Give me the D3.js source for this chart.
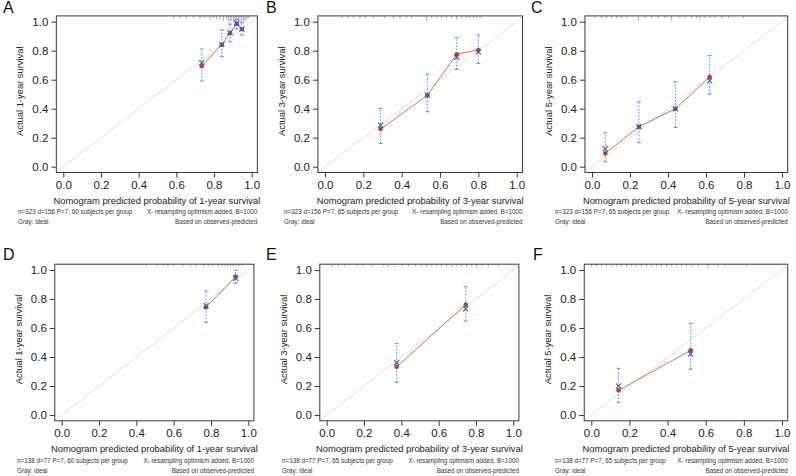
<!DOCTYPE html>
<html>
<head>
<meta charset="utf-8">
<script src="https://cdn.jsdelivr.net/npm/d3@7"></script>
<style>
  body { margin: 0; background: #fff; }
  svg { font-family: "Liberation Sans", Arial, sans-serif; display: block; }
</style>
</head>
<body>
<div id="chart"></div>
<script>
// ---- data ----
const panelLabels = ["A", "B", "C", "D", "E", "F"];
const horizons = ["1-year", "3-year", "5-year", "1-year", "3-year", "5-year"];
const footLeft = [
  "n=323 d=156 P=7, 60 subjects per group",
  "n=323 d=156 P=7, 65 subjects per group",
  "n=323 d=156 P=7, 65 subjects per group",
  "n=138 d=77 P=7, 60 subjects per group",
  "n=138 d=77 P=7, 65 subjects per group",
  "n=138 d=77 P=7, 65 subjects per group"
];
const footRight = "X- resampling optimism added, B=1000";
const footLeft2 = "Gray: ideal";
const footRight2 = "Based on observed-predicted";
const ticks = [0, 0.2, 0.4, 0.6, 0.8, 1.0];

// predicted (x), observed (red dot), optimism-corrected (blue X), CI bounds
const predA = [0.735, 0.841, 0.885, 0.920, 0.948];
const obsA  = [0.694, 0.841, 0.920, 0.984, 0.950];
const corA  = [0.717, 0.843, 0.925, 0.990, 0.950];
const lowA  = [0.591, 0.759, 0.862, 0.950, 0.908];
const uppA  = [0.812, 0.943, 0.984, 1.017, 0.993];

const predB = [0.290, 0.534, 0.687, 0.800];
const obsB  = [0.260, 0.492, 0.775, 0.805];
const corB  = [0.287, 0.495, 0.754, 0.791];
const lowB  = [0.161, 0.379, 0.671, 0.713];
const uppB  = [0.402, 0.639, 0.892, 0.908];

const predC = [0.070, 0.247, 0.439, 0.619];
const obsC  = [0.092, 0.276, 0.400, 0.618];
const corC  = [0.124, 0.276, 0.400, 0.593];
const lowC  = [0.034, 0.166, 0.271, 0.501];
const uppC  = [0.234, 0.448, 0.586, 0.766];

const predD = [0.773, 0.932];
const obsD  = [0.743, 0.954];
const corD  = [0.754, 0.943];
const lowD  = [0.639, 0.908];
const uppD  = [0.855, 0.998];

const predE = [0.375, 0.745];
const obsE  = [0.333, 0.761];
const corE  = [0.361, 0.733];
const lowE  = [0.225, 0.648];
const uppE  = [0.492, 0.885];

const predF = [0.143, 0.521];
const obsF  = [0.170, 0.446];
const corF  = [0.200, 0.421];
const lowF  = [0.087, 0.315];
const uppF  = [0.322, 0.632];

// spike histogram of predictions along the top: [value, count]
const rugA = [[0.584,1],[0.619,1],[0.655,1],[0.690,1],[0.726,1],[0.752,1],[0.779,2],[0.796,1],[0.814,2],[0.832,2],
  [0.850,3],[0.867,2],[0.876,3],[0.885,4],[0.894,3],[0.903,4],[0.912,3],[0.920,4],[0.929,5],[0.938,4],
  [0.947,5],[0.956,4],[0.965,3],[0.973,2],[0.982,1]];
const rugB = [[0.090,1],[0.120,1],[0.148,1],[0.183,1],[0.209,1],[0.252,1],[0.313,1],[0.356,1],[0.391,1],[0.426,1],
  [0.452,1],[0.530,3],[0.557,1],[0.583,1],[0.609,1],[0.635,1],[0.661,1],[0.687,2],[0.713,1],[0.739,1],
  [0.756,1],[0.774,1],[0.791,1],[0.809,1]];
const rugC = [[0.016,1],[0.051,1],[0.077,1],[0.104,1],[0.130,1],[0.156,1],[0.183,1],[0.244,3],[0.279,1],[0.314,1],
  [0.349,1],[0.384,1],[0.419,3],[0.463,1],[0.489,1],[0.525,1],[0.551,1],[0.568,2],[0.595,1],[0.621,1],
  [0.647,1],[0.682,1],[0.718,1],[0.796,1]];
const rugD = [[0.455,1],[0.510,1],[0.545,1],[0.570,1],[0.600,1],[0.650,1],[0.690,1],[0.720,1],[0.760,1],[0.785,1],
  [0.810,1],[0.840,1],[0.860,1],[0.875,1],[0.890,1],[0.905,1],[0.920,1],[0.935,1],[0.950,1],[0.965,1]];
const rugE = [[0.027,1],[0.062,1],[0.098,1],[0.161,1],[0.196,1],[0.241,1],[0.303,1],[0.330,1],[0.366,1],[0.402,1],
  [0.437,1],[0.473,1],[0.509,1],[0.536,1],[0.563,1],[0.589,1],[0.616,1],[0.643,1],[0.670,1],[0.697,1],
  [0.723,1],[0.750,1],[0.777,1],[0.804,2],[0.831,1],[0.866,1],[0.920,1]];
const rugF = [[0.002,1],[0.028,1],[0.054,1],[0.080,1],[0.107,1],[0.133,1],[0.159,1],[0.185,1],[0.211,1],[0.237,1],
  [0.264,1],[0.290,1],[0.316,1],[0.342,1],[0.368,1],[0.395,1],[0.421,1],[0.447,1],[0.473,1],[0.499,1],
  [0.526,1],[0.561,1],[0.613,2],[0.665,1],[0.700,1],[0.813,1]];

const panels = [
  { pred: predA, obs: obsA, cor: corA, low: lowA, upp: uppA, rug: rugA },
  { pred: predB, obs: obsB, cor: corB, low: lowB, upp: uppB, rug: rugB },
  { pred: predC, obs: obsC, cor: corC, low: lowC, upp: uppC, rug: rugC },
  { pred: predD, obs: obsD, cor: corD, low: lowD, upp: uppD, rug: rugD },
  { pred: predE, obs: obsE, cor: corE, low: lowE, upp: uppE, rug: rugE },
  { pred: predF, obs: obsF, cor: corF, low: lowF, upp: uppF, rug: rugF }
];

// ---- layout (pixel positions of value 0 and 1 on each axis) ----
const layout = [
  { x0: 63.3, x1: 251.7, y0: 166.7, y1: 21.7, lx: 3,   ly: 13,  fx: 18 },
  { x0: 325,  x1: 516.7, y0: 166.7, y1: 21.7, lx: 266, ly: 13,  fx: 284 },
  { x0: 592,  x1: 782,   y0: 166.7, y1: 21.7, lx: 531, ly: 13,  fx: 555 },
  { x0: 61.7, x1: 248.3, y0: 415,   y1: 270,  lx: 3,   ly: 260, fx: 17 },
  { x0: 326.7,x1: 513.3, y0: 415,   y1: 270,  lx: 266, ly: 260, fx: 282 },
  { x0: 591.3,x1: 782,   y0: 415,   y1: 270,  lx: 533, ly: 260, fx: 555 }
];

const W = 796, H = 476;
const colIdeal = "#e0e0e0", colLine = "#dc6b55", colDot = "#b8403a",
      colX = "#3a5cc8", colBar = "#4a9ee0", colBox = "#3a3a3a";

const svg = d3.select("#chart").append("svg")
  .attr("width", W).attr("height", H);

panels.forEach((p, i) => drawPanel(p, layout[i], i));

function drawPanel(p, lay, i) {
  const x = d3.scaleLinear().domain([0, 1]).range([lay.x0, lay.x1]);
  const y = d3.scaleLinear().domain([0, 1]).range([lay.y0, lay.y1]);
  const bx0 = x(-0.037), bx1 = x(1.03), by0 = y(-0.04), by1 = y(1.04);

  const g = svg.append("g");
  const clipId = "clip" + i;
  g.append("clipPath").attr("id", clipId)
    .append("rect").attr("x", bx0).attr("y", by1)
    .attr("width", bx1 - bx0).attr("height", by0 - by1);

  // ideal diagonal
  g.append("line")
    .attr("clip-path", `url(#${clipId})`)
    .attr("x1", x(-0.05)).attr("y1", y(-0.05))
    .attr("x2", x(1.05)).attr("y2", y(1.05))
    .attr("stroke", colIdeal).attr("stroke-width", 1);

  // spike histogram at top
  g.selectAll(".rug").data(p.rug).enter().append("line")
    .attr("x1", d => x(d[0])).attr("x2", d => x(d[0]))
    .attr("y1", by1).attr("y2", d => by1 + 1 + d[1] * 1.4)
    .attr("stroke", "#777").attr("stroke-width", 0.6);

  const idx = d3.range(p.pred.length);

  // error bars
  const bars = g.selectAll(".bar").data(idx).enter().append("g")
    .attr("stroke", colBar).attr("stroke-width", 1);
  bars.append("line")
    .attr("x1", d => x(p.pred[d])).attr("x2", d => x(p.pred[d]))
    .attr("y1", d => y(p.low[d])).attr("y2", d => y(p.upp[d]))
    .attr("stroke-dasharray", "1.6,1.6");
  bars.append("line")
    .attr("x1", d => x(p.pred[d]) - 2).attr("x2", d => x(p.pred[d]) + 2)
    .attr("y1", d => y(p.low[d])).attr("y2", d => y(p.low[d]));
  bars.append("line")
    .attr("x1", d => x(p.pred[d]) - 2).attr("x2", d => x(p.pred[d]) + 2)
    .attr("y1", d => y(p.upp[d])).attr("y2", d => y(p.upp[d]));

  // observed line + dots
  const line = d3.line().x(d => x(p.pred[d])).y(d => y(p.obs[d]));
  g.append("path").datum(idx)
    .attr("d", line).attr("fill", "none")
    .attr("stroke", colLine).attr("stroke-width", 1);
  g.selectAll(".dot").data(idx).enter().append("circle")
    .attr("cx", d => x(p.pred[d])).attr("cy", d => y(p.obs[d]))
    .attr("r", 2.3).attr("fill", colDot);

  // corrected X marks
  const s = 2.6;
  g.selectAll(".xm").data(idx).enter().append("path")
    .attr("d", d => {
      const cx = x(p.pred[d]), cy = y(p.cor[d]);
      return `M${cx - s},${cy - s}L${cx + s},${cy + s}M${cx - s},${cy + s}L${cx + s},${cy - s}`;
    })
    .attr("stroke", colX).attr("stroke-width", 1.1).attr("fill", "none");

  // box
  g.append("rect")
    .attr("x", bx0).attr("y", by1)
    .attr("width", bx1 - bx0).attr("height", by0 - by1)
    .attr("fill", "none").attr("stroke", colBox).attr("stroke-width", 1);

  // axes
  const fmt = d3.format(".1f");
  const ax = g.append("g").attr("transform", `translate(0,${by0})`)
    .call(d3.axisBottom(x).tickValues(ticks).tickFormat(fmt).tickSize(5).tickPadding(3));
  const ay = g.append("g").attr("transform", `translate(${bx0},0)`)
    .call(d3.axisLeft(y).tickValues(ticks).tickFormat(fmt).tickSize(5).tickPadding(3));
  [ax, ay].forEach(a => {
    a.select(".domain").remove();
    a.selectAll("line").attr("stroke", colBox);
    a.selectAll("text").attr("fill", "#222").style("font-size", "11.5px");
  });

  // axis titles
  g.append("text")
    .attr("x", (bx0 + bx1) / 2).attr("y", lay.y0 + 37)
    .attr("text-anchor", "middle").attr("fill", "#222")
    .style("font-size", "9.4px")
    .text(`Nomogram predicted probability of ${horizons[i]} survival`);
  g.append("text")
    .attr("transform", `translate(${bx0 - 33},${(by0 + by1) / 2 - 3}) rotate(-90)`)
    .attr("text-anchor", "middle").attr("fill", "#222")
    .style("font-size", "9.4px")
    .text(`Actual ${horizons[i]} survival`);

  // footnotes
  const f1 = lay.y0 + 47.5, f2 = lay.y0 + 57.5;
  g.append("text").attr("x", lay.fx).attr("y", f1).attr("fill", "#333")
    .style("font-size", "6.3px").text(footLeft[i]);
  g.append("text").attr("x", bx1).attr("y", f1).attr("text-anchor", "end").attr("fill", "#333")
    .style("font-size", "6.3px").text(footRight);
  g.append("text").attr("x", lay.fx).attr("y", f2).attr("fill", "#333")
    .style("font-size", "6.3px").text(footLeft2);
  g.append("text").attr("x", bx1).attr("y", f2).attr("text-anchor", "end").attr("fill", "#333")
    .style("font-size", "6.3px").text(footRight2);

  // panel letter
  g.append("text").attr("x", lay.lx).attr("y", lay.ly)
    .attr("fill", "#111").style("font-size", "16px")
    .text(panelLabels[i]);
}
</script>
</body>
</html>
